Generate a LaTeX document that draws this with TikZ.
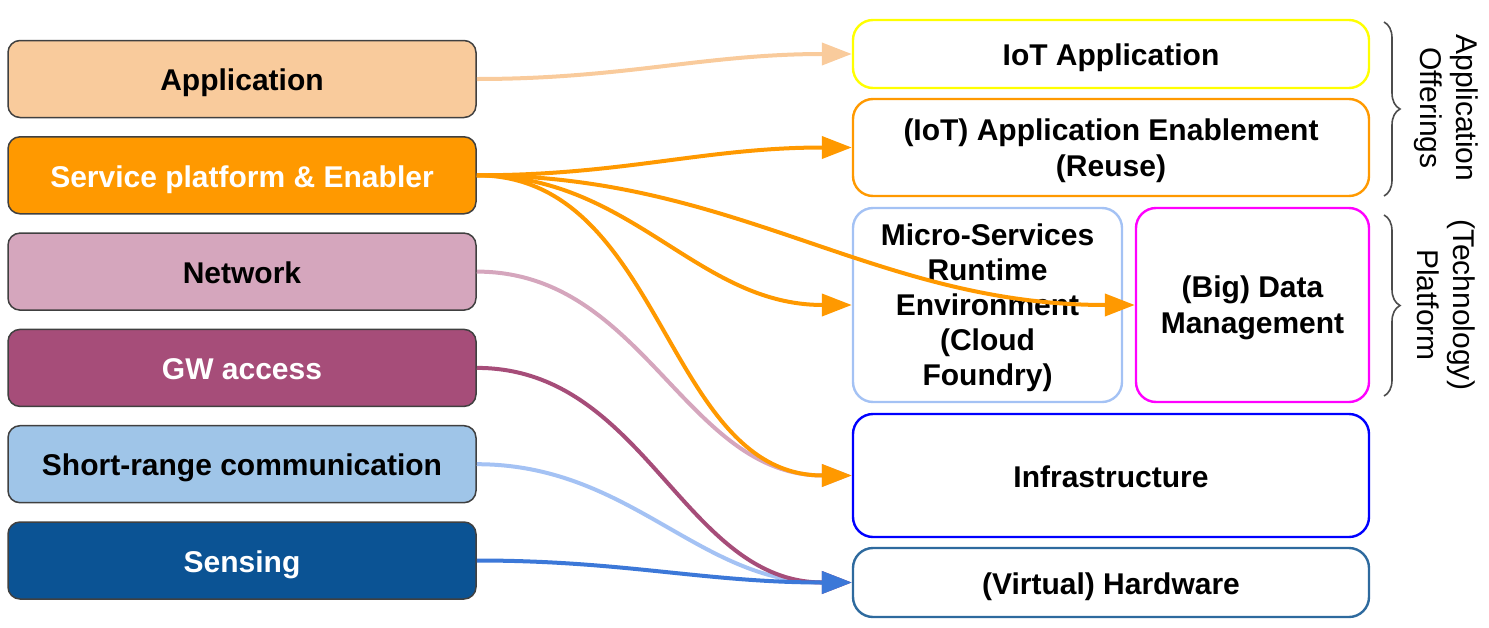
\documentclass[tikz,border=0pt]{standalone}
\usepackage{fontspec}
\setmainfont{Liberation Sans}
\usetikzlibrary{positioning,arrows.meta,decorations.pathreplacing}
\definecolor{appfill}{HTML}{F9CB9C}
\definecolor{svcfill}{HTML}{FF9900}
\definecolor{netfill}{HTML}{D5A6BD}
\definecolor{gwfill}{HTML}{A64D79}
\definecolor{shortfill}{HTML}{9FC5E8}
\definecolor{sensefill}{HTML}{0B5394}
\definecolor{iotyellow}{HTML}{FFFF00}
\definecolor{microblue}{HTML}{A4C2F4}
\definecolor{datamagenta}{HTML}{FF00FF}
\definecolor{infrablue}{HTML}{0000FF}
\definecolor{hwblue}{HTML}{2E6A9E}
\definecolor{senselink}{HTML}{3C78D8}
\newcommand\boxfont{\fontsize{15pt}{18pt}\selectfont\bfseries}
\tikzset{side/.style={draw=black!75,line width=0.75pt,rounded corners=6pt,minimum width=234pt,minimum height=38.5pt,font=\boxfont,text height=11.7pt,text depth=0pt,fill=#1},
layer/.style={draw=#1,line width=1.2pt,rounded corners=10pt,align=center,font=\boxfont,text depth=0pt,minimum width=258pt},
one line/.style={text height=11.7pt},
link/.style={color=#1,line width=2pt,-{Triangle[length=15pt,width=11pt]}},
curly/.style={decorate,decoration={brace,amplitude=8pt},draw=black!70,line width=0.8pt}}

\begin{document}
\begin{tikzpicture}[x=0.5pt,y=-0.5pt,node distance=8.9pt]
\useasboundingbox (0,0) rectangle (1489,627);
% left column
\node[side=appfill] (app) at (242,79) {Application};
\node[side=svcfill,text=white,below=of app] (svc) {Service platform \& Enabler};
\node[side=netfill,below=of svc] (net) {Network};
\node[side=gwfill,text=white,below=of net] (gw) {GW access};
\node[side=shortfill,below=of gw] (short) {Short-range communication};
\node[side=sensefill,text=white,below=of short] (sense) {Sensing};
% right column
\node[layer=iotyellow,one line,minimum height=34pt] (iot) at (1111,54) {IoT Application};
\node[layer=svcfill,minimum height=48.5pt,text depth=-1.5pt] (enable) at (1111,147.5) {(IoT) Application Enablement\\(Reuse)};
\node[layer=microblue,minimum width=134.5pt,minimum height=97pt,font=\fontsize{15pt}{17.5pt}\selectfont\bfseries,text depth=-2pt] (micro) at (987.5,305) {Micro-Services\\Runtime\\Environment\\(Cloud\\Foundry)};
\node[layer=datamagenta,minimum width=116.5pt,minimum height=97pt,text depth=-2.5pt] (data) at (1252.5,305) {(Big) Data\\Management};
\node[layer=infrablue,one line,minimum height=61.5pt] (infra) at (1111,475.5) {Infrastructure};
\node[layer=hwblue,one line,minimum height=34.5pt] (hw) at (1111,582.5) {(Virtual) Hardware};
% braces
\draw[curly] (1384,22) -- (1384,196);
\draw[curly] (1384,215) -- (1384,396);
\node[rotate=-90,align=center,font=\fontsize{15pt}{18pt}\selectfont] (offer) at (1446,108) {Application\\Offerings};
\node[rotate=-90,align=center,font=\fontsize{15pt}{18pt}\selectfont] (platform) at (1446,305) {(Technology)\\Platform};
% connectors
\draw[link=appfill] (app.east) to[out=0,in=180] (iot.west);
\draw[link=netfill] (net.east) to[out=0,in=180] (infra.west);
\draw[link=microblue] (short.east) to[out=0,in=180] (hw.west);
\draw[link=gwfill] (gw.east) to[out=0,in=180] (hw.west);
\draw[link=senselink] (sense.east) to[out=0,in=180] (hw.west);
\draw[link=svcfill] (svc.east) to[out=0,in=180] (enable.west);
\draw[link=svcfill] (svc.east) to[out=0,in=180] (micro.west);
\draw[link=svcfill] (svc.east) to[out=0,in=180] (data.west);
\draw[link=svcfill] (svc.east) to[out=0,in=180] (infra.west);
\end{tikzpicture}
\end{document}
